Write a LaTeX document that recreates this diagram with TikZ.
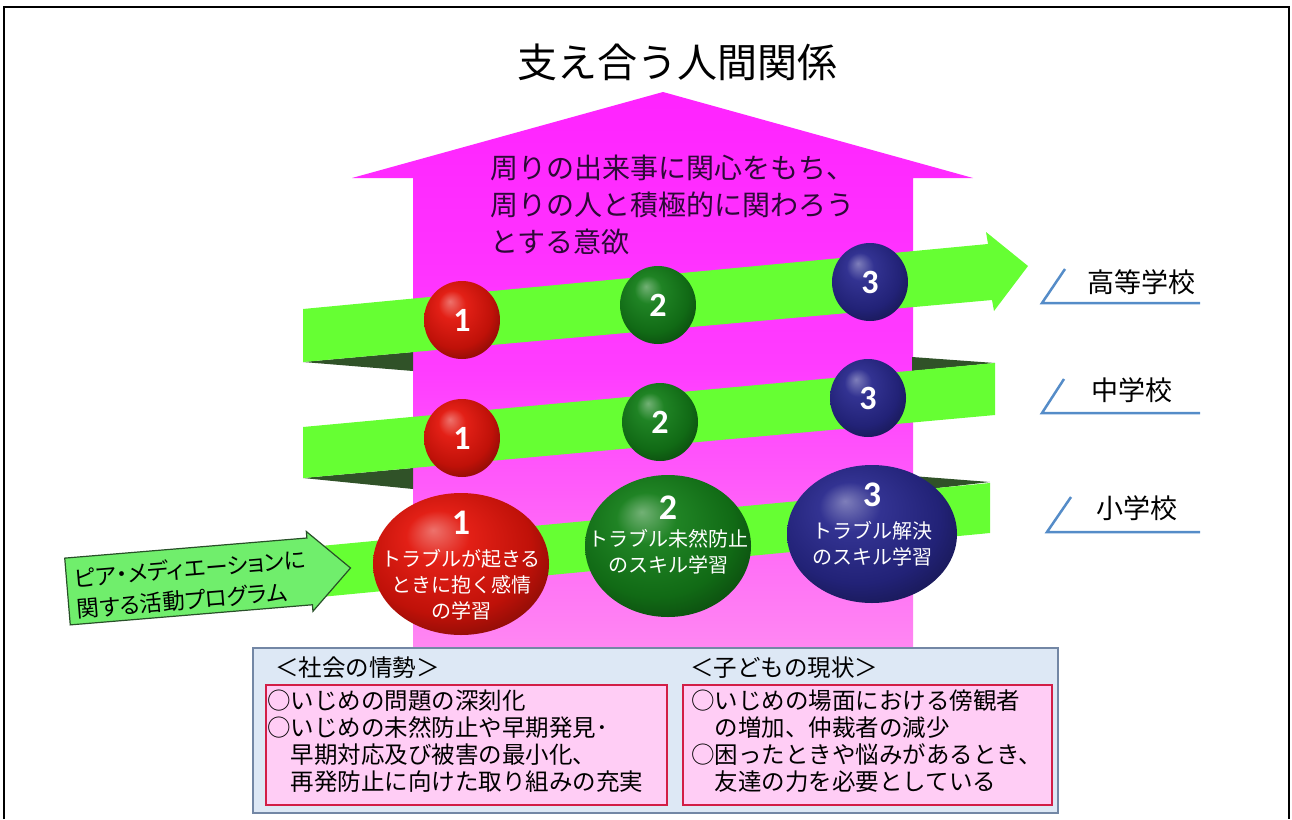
\documentclass[tikz,border=0pt]{standalone}
\usepackage{fontspec}
\usepackage{tikz}
\usetikzlibrary{positioning,calc,shapes.geometric}
\newfontfamily\jp{Noto Sans CJK JP}
\newfontfamily\jpp{Noto Sans CJK JP}[RawFeature=+palt]
\newfontfamily\numfont{Carlito}
\definecolor{bandgreen}{RGB}{102,255,51}
\definecolor{bandshade}{RGB}{48,82,40}
\definecolor{pinktop}{RGB}{255,35,255}
\definecolor{pinkmid}{RGB}{255,60,255}
\definecolor{pinkbot}{RGB}{255,135,242}
\definecolor{ballred}{RGB}{225,20,10}
\definecolor{ballgreen}{RGB}{20,125,25}
\definecolor{ballblue}{RGB}{40,40,140}
\definecolor{inputgreen}{RGB}{112,238,108}
\definecolor{inputline}{RGB}{40,80,40}
\definecolor{boxblue}{RGB}{221,232,245}
\definecolor{boxline}{RGB}{115,135,165}
\definecolor{notepink}{RGB}{255,205,245}
\definecolor{noteline}{RGB}{210,30,70}
\definecolor{tick}{RGB}{85,140,200}
\definecolor{wish}{RGB}{45,10,55}
\colorlet{globe}{red}
\pgfdeclareradialshading[globe]{gloss}{\pgfpoint{-8bp}{12bp}}{%
	color(0bp)=(globe!60!white);
	color(9bp)=(globe!95!white);
	color(24bp)=(globe!85!black);
	color(36bp)=(globe!50!black);
	color(50bp)=(globe!25!black)}
\tikzset{
	band/.style={fill=bandgreen},
	fold/.style={fill=bandshade},
	sphere/.style={ellipse, inner sep=0pt, shade, shading=gloss, /utils/exec={\colorlet{globe}{#1}}},
	smallball/.style={minimum width=76, minimum height=78, text=white, font=\numfont\bfseries\fontsize{34}{34}\selectfont},
	numtext/.style={text=white, inner sep=0pt, font=\numfont\bfseries\fontsize{36}{36}\selectfont},
	balltext/.style={text=white, inner sep=0pt, align=center, font=\jp\fontsize{20}{26}\selectfont},
	school/.style={inner sep=0pt, font=\jp\fontsize{27}{27}\selectfont},
	tickline/.style={draw=tick, line width=2.5},
	notebox/.style={fill=notepink, draw=noteline, line width=1.3},
	notehead/.style={inner sep=0pt, anchor=west, font=\jp\fontsize{23.5}{23.5}\selectfont},
	notetext/.style={inner sep=0pt, anchor=north west, align=left, font=\jp\fontsize{23.5}{26.8}\selectfont},
}

\begin{document}
\begin{tikzpicture}[x=1pt, y=-1pt]
	\useasboundingbox (0,0) rectangle (1292,819);
	\draw[line width=2] (4,819) -- (4,7) -- (1289,7) -- (1289,819);

	\shade[top color=pinktop, bottom color=pinkbot, middle color=pinkmid] (663,92) -- (973,178) -- (913,178) -- (913,648) -- (413,648) -- (413,178) -- (352,178) -- cycle;

	\fill[fold] (303,362) -- (413,352) -- (413,371) -- cycle;
	\fill[fold] (303,478) -- (413,468) -- (413,489) -- cycle;
	\fill[fold] (912,357) -- (995,363) -- (912,371) -- cycle;
	\fill[fold] (912,476) -- (990,482) -- (912,491) -- cycle;
	\fill[band] (303,309) -- (988,244) -- (986,232) -- (1028,266) -- (994,311) -- (992,300) -- (303,362) -- cycle;
	\fill[band] (303,427) -- (995,363) -- (995,415) -- (303,478) -- cycle;
	\fill[band] (310,547) -- (990,483) -- (990,533) -- (310,598) -- cycle;

	\node[sphere=ballred, smallball] (h1) at (462,320) {1};
	\node[sphere=ballgreen, smallball] (h2) at (658,305) {2};
	\node[sphere=ballblue, smallball] (h3) at (870,282) {3};
	\node[sphere=ballred, smallball] (m1) at (462,438) {1};
	\node[sphere=ballgreen, smallball] (m2) at (660,422) {2};
	\node[sphere=ballblue, smallball] (m3) at (868,398) {3};
	\node[sphere=ballred, minimum width=176, minimum height=142] (e1) at (461,564) {};
	\node[sphere=ballgreen, minimum width=166, minimum height=142] (e2) at (668,546) {};
	\node[sphere=ballblue, minimum width=170, minimum height=138] (e3) at (872,534) {};

	\node[numtext] (n1) at ($(e1)+(0,-41)$) {1};
	\node[balltext] (t1) at ($(e1)+(0,21)$) {トラブルが起きる\\ときに抱く感情\\の学習};
	\node[numtext] (n2) at ($(e2)+(0,-38)$) {2};
	\node[balltext] (t2) at ($(e2)+(0,6)$) {トラブル未然防止\\のスキル学習};
	\node[numtext] (n3) at ($(e3)+(0,-39)$) {3};
	\node[balltext] (t3) at ($(e3)+(0,10)$) {トラブル解決\\のスキル学習};

	\begin{scope}[shift={(67.5,591.5)}, rotate=4.75]
		\filldraw[fill=inputgreen, draw=inputline, line width=1.2] (0,-33.5) -- (243,-33.5) -- (243,-40) -- (284,0) -- (243,40) -- (243,33.5) -- (0,33.5) -- cycle;
		\node[transform shape, anchor=west, inner sep=0pt, align=left, font=\jpp\fontsize{22.5}{31}\selectfont] (prog) at (8,3) {ピア・メディエーションに\\関する活動プログラム};
	\end{scope}

	\node[font=\jp\fontsize{40}{40}\selectfont] (title) at (677,62) {支え合う人間関係};
	\node[anchor=north west, inner sep=0pt, align=left, text=wish, font=\jp\fontsize{28}{37}\selectfont] (wish) at (490,155) {周りの出来事に関心をもち、\\周りの人と積極的に関わろう\\とする意欲};

	\node[school] (hs) at (1141,282) {高等学校};
	\node[school] (ms) at (1132,390) {中学校};
	\node[school] (es) at (1137,508) {小学校};
	\draw[tickline] (1065,269) -- (1042,303) -- (1200,303);
	\draw[tickline] (1064,379) -- (1042,413) -- (1200,413);
	\draw[tickline] (1071,497) -- (1047,532) -- (1200,532);

	\draw[fill=boxblue, draw=boxline, line width=1.5] (253,648) rectangle (1058,813);
	\draw[notebox] (266,685) rectangle (667,805);
	\draw[notebox] (683,685) rectangle (1052,805);
	\node[notehead] (soc) at (275,668) {＜社会の情勢＞};
	\node[notehead] (kid) at (690,668) {＜子どもの現状＞};
	\node[notetext] (socl) at (267,690) {○いじめの問題の深刻化\\○いじめの未然防止や早期発見･\\　早期対応及び被害の最小化、\\　再発防止に向けた取り組みの充実};
	\node[notetext] (kidl) at (691,690) {○いじめの場面における傍観者\\　の増加、仲裁者の減少\\○困ったときや悩みがあるとき、\\　友達の力を必要としている};
\end{tikzpicture}
\end{document}
